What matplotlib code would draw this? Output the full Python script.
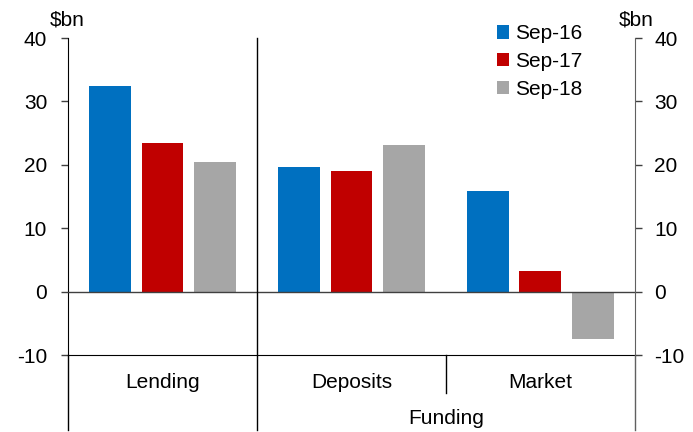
import matplotlib
matplotlib.use("Agg")
import matplotlib.pyplot as plt
import numpy as np
from matplotlib.lines import Line2D
from matplotlib.patches import Patch

plt.rcParams["font.family"] = ["Liberation Sans", "DejaVu Sans"]

categories = ["Lending", "Deposits", "Market"]
series = ["Sep-16", "Sep-17", "Sep-18"]
sep16 = [32.4, 19.7, 15.8]
sep17 = [23.5, 19.1, 3.2]
sep18 = [20.5, 23.2, -7.4]
colors = ["#0070C0", "#C00000", "#A6A6A6"]

FS = 15

fig = plt.figure(figsize=(6.93, 4.32), dpi=100)
ax = fig.add_axes([0.0981, 0.178, 0.818, 0.734])

x = np.arange(len(categories))
W, STEP = 0.221, 0.279
for i, (vals, c, lab) in enumerate(zip([sep16, sep17, sep18], colors, series)):
    ax.bar(x + (i - 1) * STEP, vals, W, color=c, label=lab, zorder=2)

ax.set_xlim(-0.5, 2.5)
ax.set_ylim(-10, 40)
ax.set_yticks(range(-10, 41, 10))
ax.set_yticklabels([str(v) for v in range(-10, 41, 10)])
ax.set_xticks([])
ax.axhline(0, color="#404040", lw=1.0, zorder=3)
for s in ["top", "right"]:
    ax.spines[s].set_visible(False)
ax.spines["left"].set_color("black")
ax.spines["bottom"].set_color("black")
ax.tick_params(axis="y", direction="out", length=5, width=1, pad=10,
               labelsize=FS, color="#404040")

ax2 = ax.twinx()
ax2.set_ylim(-10, 40)
ax2.set_yticks(range(-10, 41, 10))
ax2.set_yticklabels([str(v) for v in range(-10, 41, 10)])
for s in ["top", "left", "bottom"]:
    ax2.spines[s].set_visible(False)
ax2.spines["right"].set_color("#606060")
ax2.tick_params(axis="y", direction="out", length=5, width=1, pad=9,
                labelsize=FS, color="#404040")

# unit labels above both axes
fig.text(0.097, 0.953, "$bn", ha="center", va="center", fontsize=FS)
fig.text(0.918, 0.953, "$bn", ha="center", va="center", fontsize=FS)

# category separators and axis extensions below the plot
tr = ax.get_xaxis_transform()
for xs, y0, y1, col in [(-0.5, 0, -0.237, "black"), (0.5, 1, -0.237, "black"),
                        (1.5, 0, -0.12, "black"), (2.5, 0, -0.237, "#606060")]:
    ax.add_line(Line2D([xs, xs], [y0, y1], transform=tr, color=col, lw=1.0,
                       clip_on=False, zorder=4))

for xi, lab in zip(x, categories):
    ax.text(xi, -0.085, lab, transform=tr, ha="center", va="center", fontsize=FS)
ax.text(1.5, -0.2, "Funding", transform=tr, ha="center", va="center", fontsize=FS)

handles = [Patch(facecolor=c, label=l) for c, l in zip(colors, series)]
fig.legend(handles=handles, loc="upper left", bbox_to_anchor=(0.705, 0.963),
           frameon=False, fontsize=FS, handlelength=0.6, handleheight=0.6,
           handletextpad=0.25, labelspacing=0.42, borderaxespad=0)

fig.savefig("out.png", dpi=100)
